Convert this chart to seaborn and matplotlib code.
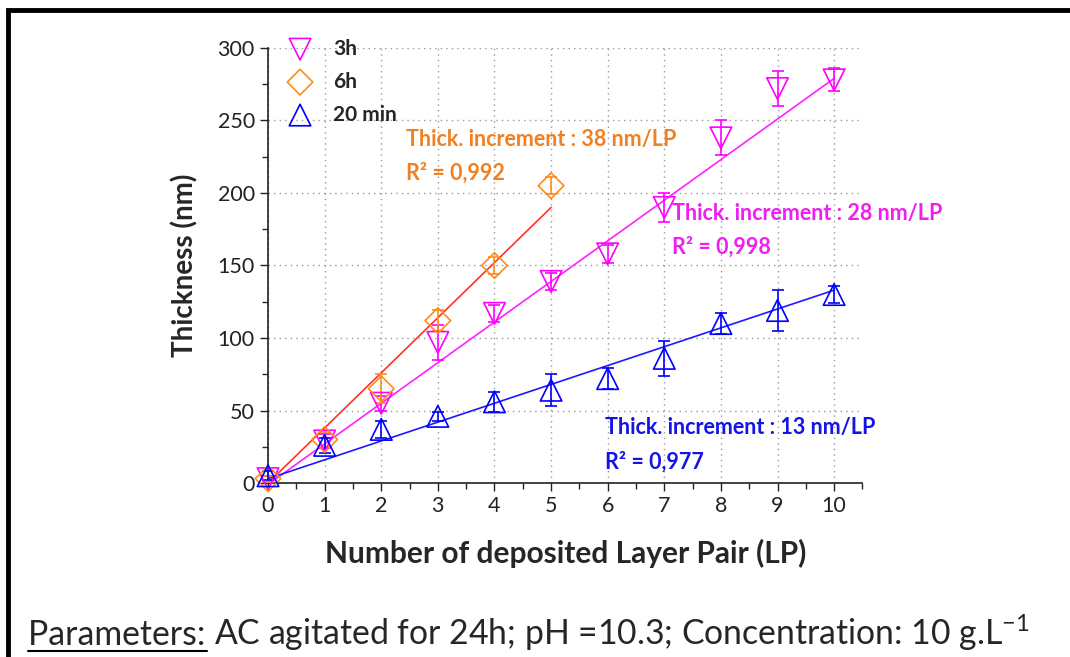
import numpy as np
import pandas as pd
import seaborn as sns
import matplotlib.pyplot as plt
from matplotlib.patches import Rectangle
from matplotlib.lines import Line2D
from matplotlib.ticker import MultipleLocator

# data
lp_3h = [0, 1, 2, 3, 4, 5, 6, 7, 8, 9, 10]
thick_3h = [3, 29, 55, 97, 117, 139, 158, 190, 238, 272, 278]
err_3h = [2, 5, 5, 12, 6, 6, 6, 10, 12, 12, 8]

lp_6h = [0, 1, 2, 3, 4, 5]
thick_6h = [3, 30, 65, 112, 150, 205]
err_6h = [2, 5, 10, 7, 6, 6]

lp_20 = [0, 1, 2, 3, 4, 5, 6, 7, 8, 9, 10]
thick_20 = [5, 26, 37, 46, 56, 64, 72, 86, 110, 119, 130]
err_20 = [3, 5, 6, 3, 7, 11, 7, 12, 7, 14, 6]

series = ['3h', '6h', '20 min']
slopes = [28, 38, 13]
intercepts = [-1, 0, 3]
fit_end = [10, 5, 10]
r2 = ['0,998', '0,992', '0,977']

marker_col = {'3h': '#FF00FF', '6h': '#FF8C1A', '20 min': '#0000FF'}
line_col = {'3h': '#FF22FF', '6h': '#FF3322', '20 min': '#1A1AFF'}
text_col = {'3h': '#F01EF0', '6h': '#F08020', '20 min': '#1414E6'}
markers = {'3h': 'v', '6h': 'D', '20 min': '^'}
msize = {'3h': 240, '6h': 170, '20 min': 240}
text_pos = {'3h': (7.13, 186), '6h': (2.43, 237), '20 min': (5.95, 38)}

df = pd.concat([
    pd.DataFrame({'LP': lp_3h, 'Thickness': thick_3h, 'err': err_3h, 'Series': '3h'}),
    pd.DataFrame({'LP': lp_6h, 'Thickness': thick_6h, 'err': err_6h, 'Series': '6h'}),
    pd.DataFrame({'LP': lp_20, 'Thickness': thick_20, 'err': err_20, 'Series': '20 min'}),
], ignore_index=True)

sns.set_style('ticks')
plt.rcParams['font.family'] = ['Lato', 'DejaVu Sans']
plt.rcParams['mathtext.fontset'] = 'custom'
plt.rcParams['mathtext.rm'] = 'Lato'

fig = plt.figure(figsize=(10.7, 6.57), dpi=100)
ax = fig.add_axes([0.2505, 0.2648, 0.806 - 0.2505, 0.927 - 0.2648])

# fitted lines
for s, a, b, xe in zip(series, slopes, intercepts, fit_end):
    xf = np.array([0, xe])
    sns.lineplot(x=xf, y=a * xf + b, color=line_col[s], lw=1.2, ax=ax, zorder=2)

# error bars and markers
for s in series:
    d = df[df['Series'] == s]
    ax.errorbar(d['LP'], d['Thickness'], yerr=d['err'], fmt='none',
                ecolor=marker_col[s], elinewidth=1.2, capsize=4.5, capthick=1.2,
                zorder=3, clip_on=False)
    sns.scatterplot(data=d, x='LP', y='Thickness', marker=markers[s], s=msize[s],
                    facecolor='none', edgecolor=marker_col[s], linewidth=1.2,
                    label=s, ax=ax, zorder=4, clip_on=False)

# fit annotations
for s, a, r in zip(series, slopes, r2):
    tx, ty = text_pos[s]
    ax.text(tx, ty, f'Thick. increment : {a} nm/LP', color=text_col[s],
            fontsize=15.5, fontweight='bold', va='center', ha='left')
    ax.text(tx, ty - 23.5, f'R\u00b2 = {r}', color=text_col[s],
            fontsize=15.5, fontweight='bold', va='center', ha='left')

ax.set_xlim(0, 10.5)
ax.set_ylim(0, 300)
ax.xaxis.set_major_locator(MultipleLocator(1))
ax.xaxis.set_minor_locator(MultipleLocator(0.5))
ax.yaxis.set_major_locator(MultipleLocator(50))
ax.yaxis.set_minor_locator(MultipleLocator(25))
ax.tick_params(which='major', length=6, width=1, direction='out', labelsize=15.5, colors='#222222')
ax.tick_params(which='minor', length=4, width=1, direction='out')
sns.despine(ax=ax)
for sp in ['left', 'bottom']:
    ax.spines[sp].set_linewidth(1.2)
    ax.spines[sp].set_color('#222222')
ax.grid(True, which='major', ls=(0, (1, 3)), color='#999999', lw=1)
ax.set_axisbelow(True)

ax.set_xlabel('Number of deposited Layer Pair (LP)', fontsize=21.5, fontweight='bold', labelpad=16)
ax.set_ylabel('Thickness (nm)', fontsize=20, fontweight='bold', labelpad=14)

leg = ax.legend(loc='upper left', bbox_to_anchor=(0.259, 0.957), bbox_transform=fig.transFigure,
                frameon=False, fontsize=15, handletextpad=1.0, labelspacing=0.62,
                borderpad=0, handlelength=1.2)
for t in leg.get_texts():
    t.set_fontweight('bold')

# footer
t = fig.text(28 / 1070, 1 - 645 / 657, 'Parameters: ', fontsize=24.3, ha='left', va='baseline')
fig.canvas.draw()
bb = t.get_window_extent()
fig.text(bb.x1 / 1070, 1 - 645 / 657, 'AC agitated for 24h; pH =10.3; Concentration: 10 g.L$^{-1}$',
         fontsize=24.3, ha='left', va='baseline')
fig.add_artist(Line2D([bb.x0 / 1070, (bb.x1 - 7) / 1070], [1 - 651 / 657, 1 - 651 / 657],
                      transform=fig.transFigure, color='black', lw=1.5))

# outer frame
fig.add_artist(Rectangle((8 / 1070, -0.1), 1.2, 1.1 - 10 / 657, transform=fig.transFigure,
                         fill=False, lw=3.5, edgecolor='black', clip_on=False))

fig.savefig('out.png', dpi=100)
